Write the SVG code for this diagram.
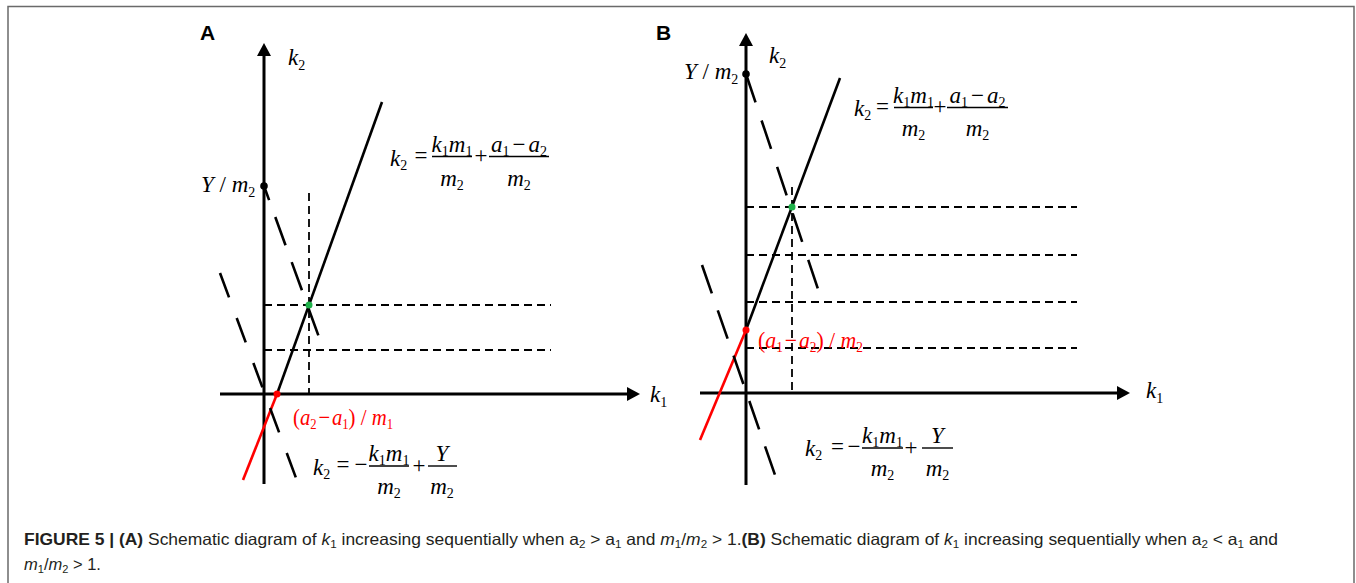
<svg xmlns="http://www.w3.org/2000/svg" width="1356" height="583" viewBox="0 0 1356 583">
<style>
.ax{stroke:#000;stroke-width:3;fill:none}
.ln{stroke:#000;stroke-width:2.6;fill:none}
.rd{stroke:#f00;stroke-width:2.6;fill:none}
.ld{stroke:#000;stroke-width:2.6;fill:none;stroke-dasharray:30 18}
.sd{stroke:#000;stroke-width:1.8;fill:none;stroke-dasharray:8 5}
.bar{stroke:#000;stroke-width:1.4}
.m{font-family:"Liberation Serif","Times New Roman",serif;font-style:italic;font-size:23px;fill:#000}
.r{font-style:normal}
.s{font-style:normal;font-size:14px}
.lab{font-family:"Liberation Sans",Arial,sans-serif;font-weight:bold;font-size:21px;fill:#000}
.cap{font-family:"Liberation Sans",Arial,sans-serif;font-size:16.5px;fill:#231f20}
.red{fill:#f00}
</style>
<defs>
<marker id="ah" markerWidth="14" markerHeight="14" refX="3" refY="7" orient="auto" markerUnits="userSpaceOnUse"><path d="M0,0 L13,7 L0,14 Z" fill="#000"/></marker>
</defs>
<path d="M8,583 V6.5 H1354 V583" fill="none" stroke="#6a6a6a" stroke-width="1.5"/>

<g id="panelA">
  <text class="lab" x="200" y="40">A</text>
  <g id="A-connectors">
    <line class="ax" x1="264" y1="484" x2="264" y2="53" marker-end="url(#ah)"/>
    <line class="ax" x1="220" y1="394" x2="630" y2="394" marker-end="url(#ah)"/>
    <line class="sd" x1="309" y1="193" x2="309" y2="394"/>
    <line class="sd" x1="264" y1="305" x2="551" y2="305"/>
    <line class="sd" x1="264" y1="350" x2="551" y2="350"/>
    <line class="ln" x1="382" y1="102" x2="277" y2="394"/>
    <line class="rd" x1="277" y1="394" x2="243" y2="480"/>
    <line class="ld" x1="264" y1="186" x2="320" y2="340" stroke-dashoffset="15"/>
    <line class="ld" x1="220" y1="273" x2="296" y2="478" style="stroke-dasharray:26 22"/>
  </g>
  <circle cx="264" cy="186" r="3.8" fill="#000"/>
  <circle cx="277" cy="394" r="3.5" fill="#f00"/>
  <circle cx="309" cy="305" r="3.5" fill="#1fb24a"/>
  <text class="m" x="288" y="65">k<tspan class="s" dy="5">2</tspan></text>
  <text class="m" x="650" y="402">k<tspan class="s" dy="5">1</tspan></text>
  <text class="m" x="201" y="192">Y<tspan class="r"> / </tspan>m<tspan class="s" dy="5">2</tspan></text>
  <text class="m red" x="293" y="425" textLength="100" lengthAdjust="spacingAndGlyphs"><tspan class="r">(</tspan>a<tspan class="s" dy="4">2</tspan><tspan class="r" dy="-4" dx="2">−</tspan><tspan dx="2">a</tspan><tspan class="s" dy="4">1</tspan><tspan class="r" dy="-4">) / </tspan>m<tspan class="s" dy="4">1</tspan></text>
  <g id="A-eq1">
    <text class="m" x="390" y="165.5">k<tspan class="s" dy="4">2</tspan></text>
    <text class="m r" x="421" y="162.5" text-anchor="middle">=</text>
    <line class="bar" x1="432" y1="156.5" x2="472" y2="156.5"/>
    <text class="m" x="452" y="151.5" text-anchor="middle">k<tspan class="s" dy="4">1</tspan><tspan dy="-4">m</tspan><tspan class="s" dy="4">1</tspan></text>
    <text class="m" x="452" y="185.5" text-anchor="middle">m<tspan class="s" dy="4">2</tspan></text>
    <text class="m r" x="481" y="163" text-anchor="middle">+</text>
    <line class="bar" x1="489" y1="156.5" x2="549" y2="156.5"/>
    <text class="m" x="519" y="151.5" text-anchor="middle">a<tspan class="s" dy="4">1</tspan><tspan class="r" dy="-4" dx="3">−</tspan><tspan dx="3">a</tspan><tspan class="s" dy="4">2</tspan></text>
    <text class="m" x="519" y="185.5" text-anchor="middle">m<tspan class="s" dy="4">2</tspan></text>
  </g>
  <g id="A-eq2">
    <text class="m" x="313" y="475">k<tspan class="s" dy="4">2</tspan></text>
    <text class="m r" x="343" y="472" text-anchor="middle">=</text>
    <text class="m r" x="361" y="472" text-anchor="middle">−</text>
    <line class="bar" x1="369" y1="466" x2="409" y2="466"/>
    <text class="m" x="389" y="461" text-anchor="middle">k<tspan class="s" dy="4">1</tspan><tspan dy="-4">m</tspan><tspan class="s" dy="4">1</tspan></text>
    <text class="m" x="389" y="494" text-anchor="middle">m<tspan class="s" dy="4">2</tspan></text>
    <text class="m r" x="419" y="472.5" text-anchor="middle">+</text>
    <line class="bar" x1="428" y1="466" x2="457" y2="466"/>
    <text class="m" x="442" y="461" text-anchor="middle">Y</text>
    <text class="m" x="442" y="494" text-anchor="middle">m<tspan class="s" dy="4">2</tspan></text>
  </g>
</g>

<g id="panelB">
  <text class="lab" x="656" y="40">B</text>
  <g id="B-connectors">
    <line class="ax" x1="746" y1="485" x2="746" y2="43" marker-end="url(#ah)"/>
    <line class="ax" x1="700" y1="393" x2="1120" y2="393" marker-end="url(#ah)"/>
    <line class="sd" x1="792" y1="187" x2="792" y2="393"/>
    <line class="sd" x1="746" y1="207" x2="1077" y2="207"/>
    <line class="sd" x1="746" y1="255" x2="1077" y2="255"/>
    <line class="sd" x1="746" y1="302" x2="1077" y2="302"/>
    <line class="sd" x1="746" y1="348" x2="1077" y2="348"/>
    <line class="ln" x1="840" y1="78" x2="746" y2="330"/>
    <line class="rd" x1="746" y1="330" x2="700" y2="440"/>
    <line class="ld" x1="746" y1="74" x2="818" y2="289" style="stroke-dasharray:30 19"/>
    <line class="ld" x1="702" y1="265" x2="775" y2="475"/>
  </g>
  <circle cx="746" cy="74" r="3.8" fill="#000"/>
  <circle cx="746" cy="330" r="3.5" fill="#f00"/>
  <circle cx="792" cy="207" r="3.5" fill="#1fb24a"/>
  <text class="m" x="769" y="63">k<tspan class="s" dy="5">2</tspan></text>
  <text class="m" x="1146" y="398">k<tspan class="s" dy="5">1</tspan></text>
  <text class="m" x="684" y="79">Y<tspan class="r"> / </tspan>m<tspan class="s" dy="5">2</tspan></text>
  <text class="m red" x="758" y="348" textLength="105" lengthAdjust="spacingAndGlyphs"><tspan class="r">(</tspan>a<tspan class="s" dy="4">1</tspan><tspan class="r" dy="-4" dx="2">−</tspan><tspan dx="2">a</tspan><tspan class="s" dy="4">2</tspan><tspan class="r" dy="-4">) / </tspan>m<tspan class="s" dy="4">2</tspan></text>
  <g id="B-eq1">
    <text class="m" x="854" y="116">k<tspan class="s" dy="4">2</tspan></text>
    <text class="m r" x="882.5" y="113.5" text-anchor="middle">=</text>
    <line class="bar" x1="894" y1="107.5" x2="933" y2="107.5"/>
    <text class="m" x="913.5" y="102.5" text-anchor="middle">k<tspan class="s" dy="4">1</tspan><tspan dy="-4">m</tspan><tspan class="s" dy="4">1</tspan></text>
    <text class="m" x="913.5" y="136" text-anchor="middle">m<tspan class="s" dy="4">2</tspan></text>
    <text class="m r" x="940" y="114" text-anchor="middle">+</text>
    <line class="bar" x1="947" y1="107.5" x2="1008" y2="107.5"/>
    <text class="m" x="977.5" y="102.5" text-anchor="middle">a<tspan class="s" dy="4">1</tspan><tspan class="r" dy="-4" dx="3">−</tspan><tspan dx="3">a</tspan><tspan class="s" dy="4">2</tspan></text>
    <text class="m" x="977.5" y="136" text-anchor="middle">m<tspan class="s" dy="4">2</tspan></text>
  </g>
  <g id="B-eq2">
    <text class="m" x="805" y="456">k<tspan class="s" dy="4">2</tspan></text>
    <text class="m r" x="837.5" y="454" text-anchor="middle">=</text>
    <text class="m r" x="854" y="454" text-anchor="middle">−</text>
    <line class="bar" x1="862" y1="448" x2="903" y2="448"/>
    <text class="m" x="882.5" y="443" text-anchor="middle">k<tspan class="s" dy="4">1</tspan><tspan dy="-4">m</tspan><tspan class="s" dy="4">1</tspan></text>
    <text class="m" x="882.5" y="476" text-anchor="middle">m<tspan class="s" dy="4">2</tspan></text>
    <text class="m r" x="911" y="454.5" text-anchor="middle">+</text>
    <line class="bar" x1="922" y1="448" x2="953" y2="448"/>
    <text class="m" x="937.5" y="443" text-anchor="middle">Y</text>
    <text class="m" x="937.5" y="476" text-anchor="middle">m<tspan class="s" dy="4">2</tspan></text>
  </g>
</g>

<g id="caption">
  <text class="cap" x="24" y="545" textLength="1254" lengthAdjust="spacingAndGlyphs"><tspan font-weight="bold">FIGURE 5 | (A)</tspan> Schematic diagram of <tspan font-style="italic">k</tspan><tspan font-size="11" dy="3">1</tspan><tspan dy="-3"> increasing sequentially when a</tspan><tspan font-size="11" dy="3">2</tspan><tspan dy="-3"> &gt; a</tspan><tspan font-size="11" dy="3">1</tspan><tspan dy="-3"> and </tspan><tspan font-style="italic">m</tspan><tspan font-size="11" dy="3">1</tspan><tspan dy="-3">/</tspan><tspan font-style="italic">m</tspan><tspan font-size="11" dy="3">2</tspan><tspan dy="-3"> &gt; 1.</tspan><tspan font-weight="bold">(B)</tspan> Schematic diagram of <tspan font-style="italic">k</tspan><tspan font-size="11" dy="3">1</tspan><tspan dy="-3"> increasing sequentially when a</tspan><tspan font-size="11" dy="3">2</tspan><tspan dy="-3"> &lt; a</tspan><tspan font-size="11" dy="3">1</tspan><tspan dy="-3"> and</tspan></text>
  <text class="cap" x="24" y="570"><tspan font-style="italic">m</tspan><tspan font-size="11" dy="3">1</tspan><tspan dy="-3">/</tspan><tspan font-style="italic">m</tspan><tspan font-size="11" dy="3">2</tspan><tspan dy="-3"> &gt; 1.</tspan></text>
</g>
</svg>
